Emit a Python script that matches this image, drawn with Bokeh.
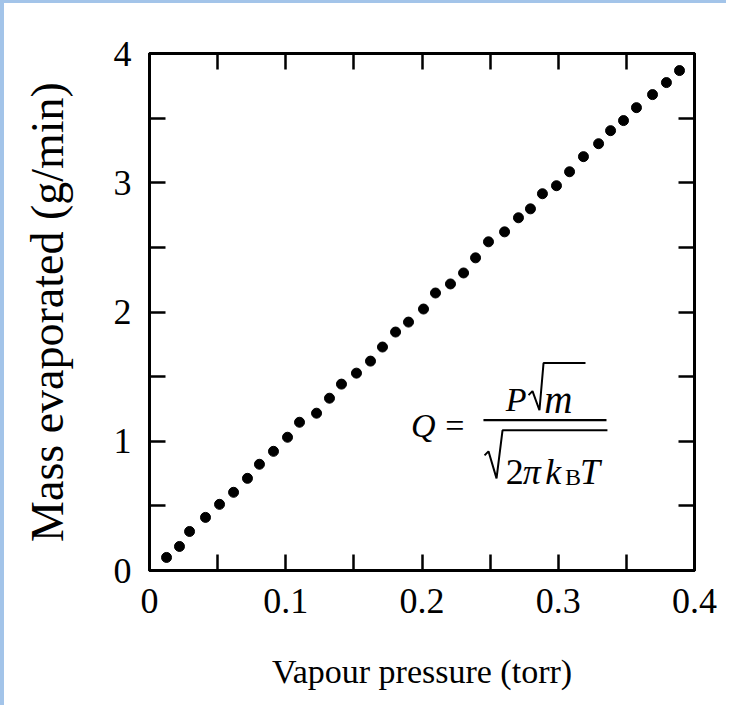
from bokeh.plotting import figure
from bokeh.models import LinearAxis, FixedTicker, Label, Range1d
from bokeh.embed import file_html
from bokeh.resources import INLINE

# Data
pressure = [0.0125, 0.0220, 0.0294, 0.0411, 0.0514, 0.0617, 0.0719, 0.0807, 0.0910, 0.1013,
            0.1101, 0.1226, 0.1321, 0.1409, 0.1519, 0.1622, 0.1710, 0.1806, 0.1901, 0.2011,
            0.2099, 0.2209, 0.2305, 0.2393, 0.2488, 0.2606, 0.2708, 0.2796, 0.2884, 0.2987,
            0.3083, 0.3185, 0.3296, 0.3384, 0.3479, 0.3574, 0.3692, 0.3794, 0.3890]
mass = [0.101, 0.186, 0.302, 0.411, 0.512, 0.605, 0.713, 0.822, 0.922, 1.031,
        1.147, 1.217, 1.333, 1.442, 1.527, 1.620, 1.729, 1.845, 1.922, 2.023,
        2.147, 2.217, 2.302, 2.419, 2.543, 2.620, 2.729, 2.798, 2.915, 2.977,
        3.085, 3.202, 3.302, 3.403, 3.481, 3.581, 3.682, 3.775, 3.868]

x_ticks = [0, 0.1, 0.2, 0.3, 0.4]
x_minor = [0.05, 0.15, 0.25, 0.35]
y_ticks = [0, 1, 2, 3, 4]
y_minor = [0.5, 1.5, 2.5, 3.5]

x_label = "Vapour pressure (torr)"
y_label = "Mass evaporated (g/min)"

FONT = "Liberation Serif"

p = figure(width=726, height=705, output_backend="svg", toolbar_location=None,
           x_range=Range1d(0, 0.4), y_range=Range1d(0, 4),
           x_axis_location=None, y_axis_location=None,
           min_border_left=145, min_border_right=36, min_border_top=50, min_border_bottom=138)
p.styles = {"border-left": "4px solid #a3c4e9", "border-top": "3px solid #a3c4e9"}
p.grid.visible = False
p.outline_line_color = "black"
p.outline_line_width = 3
p.background_fill_color = "white"
p.border_fill_color = "white"


def make_axis(ticks, minor, show_labels, label=None):
    ax = LinearAxis(ticker=FixedTicker(ticks=ticks, minor_ticks=minor))
    ax.axis_line_width = 3
    ax.axis_line_color = "black"
    ax.major_tick_in = 16
    ax.major_tick_out = 0
    ax.minor_tick_in = 16
    ax.minor_tick_out = 0
    ax.major_tick_line_width = 2.5
    ax.minor_tick_line_width = 2.5
    ax.major_tick_line_color = "black"
    ax.minor_tick_line_color = "black"
    if show_labels:
        ax.major_label_text_font = FONT
        ax.major_label_text_font_size = "36px"
        ax.major_label_text_color = "black"
    else:
        ax.major_label_text_font_size = "0px"
        ax.major_label_text_alpha = 0
    if label:
        ax.axis_label = label
        ax.axis_label_text_font = FONT
        ax.axis_label_text_font_style = "normal"
        ax.axis_label_text_color = "black"
    return ax


xb = make_axis(x_ticks, x_minor, True, x_label)
xb.major_label_standoff = 18
xb.axis_label_text_font_size = "34px"
xb.axis_label_standoff = 37
xb.major_label_overrides = {0: "0", 0.1: "0.1", 0.2: "0.2", 0.3: "0.3", 0.4: "0.4"}
p.add_layout(xb, "below")

yl = make_axis(y_ticks, y_minor, True, y_label)
yl.major_label_standoff = 18
yl.axis_label_text_font_size = "46px"
yl.axis_label_standoff = 38
p.add_layout(yl, "left")

xt = make_axis(x_ticks, x_minor, False)
p.add_layout(xt, "above")
yr = make_axis(y_ticks, y_minor, False)
p.add_layout(yr, "right")

p.scatter(pressure, mass, size=10, color="black", marker="circle")

# Formula annotation: Q = P sqrt(m) / sqrt(2 pi k_B T)
FS = "34px"


def lab(x, y, text, style="italic", size=FS):
    p.add_layout(Label(x=x, y=y, text=text, text_font=FONT, text_font_size=size,
                       text_font_style=style, text_color="black",
                       text_baseline="alphabetic", text_align="left"))


lab(0.192, 1.12, "Q")
lab(0.217, 1.12, "=", "normal")
# fraction bar
p.line(x=[0.2451, 0.3354], y=[1.163, 1.163], line_width=2.2, color="black")
# numerator  P sqrt(m)
lab(0.2615, 1.326, "P")
p.line(x=[0.2782, 0.2811, 0.2862, 0.2892, 0.3200],
       y=[1.357, 1.388, 1.240, 1.605, 1.605], line_width=2, color="black")
lab(0.2897, 1.326, "m", "italic", "39px")
# denominator  sqrt(2 pi k_B T)
p.line(x=[0.2459, 0.2488, 0.2547, 0.2591, 0.3361],
       y=[0.891, 0.922, 0.713, 1.085, 1.085], line_width=2, color="black")
lab(0.2615, 0.760, "2", "normal", "36px")
lab(0.2740, 0.760, "\u03c0", "italic", "36px")
lab(0.2905, 0.760, "k", "italic", "36px")
lab(0.3050, 0.721, "B", "normal", "24px")
lab(0.3160, 0.760, "T", "italic", "36px")

open("out.html", "w").write(file_html(p, INLINE))
